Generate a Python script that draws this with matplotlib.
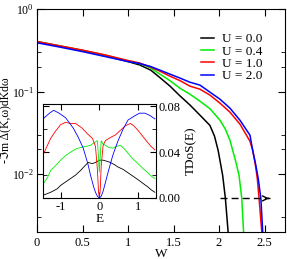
import matplotlib
matplotlib.use('Agg')
import matplotlib.pyplot as plt
from matplotlib.ticker import LogLocator, NullFormatter, FixedLocator

plt.rcParams['font.family'] = ['Liberation Serif', 'DejaVu Sans']
plt.rcParams['mathtext.fontset'] = 'stix'

# ---------------- main panel data ----------------
W_black = [0, 0.25, 0.5, 0.75, 1.0, 1.13, 1.25, 1.35, 1.46, 1.57, 1.68, 1.79, 1.90, 1.95, 1.99, 2.01, 2.04, 2.07, 2.10, 2.12]
v_black = [0.401, 0.356, 0.314, 0.273, 0.231, 0.210, 0.182, 0.148, 0.117, 0.089, 0.069, 0.052, 0.039, 0.029,
           0.0195, 0.0148, 0.0097, 0.0051, 0.002, 0.0005]

W_green = [0, 0.25, 0.5, 0.75, 1.0, 1.13, 1.25, 1.35, 1.46, 1.57, 1.68, 1.79, 1.90, 2.01, 2.07, 2.12, 2.15, 2.18,
           2.22, 2.25, 2.27, 2.29]
v_green = [0.404, 0.358, 0.316, 0.276, 0.234, 0.2185, 0.193, 0.163, 0.136, 0.110, 0.0932, 0.0767, 0.0622, 0.0451,
           0.0351, 0.0258, 0.0195, 0.0148, 0.0097, 0.0051, 0.002, 0.0005]

W_red = [0, 0.25, 0.5, 0.75, 1.0, 1.13, 1.25, 1.35, 1.46, 1.57, 1.68, 1.79, 1.90, 2.01, 2.12, 2.23, 2.34, 2.37,
         2.40, 2.42, 2.44, 2.47, 2.49]
v_red = [0.404, 0.358, 0.318, 0.278, 0.238, 0.2215, 0.198, 0.177, 0.154, 0.136, 0.1166, 0.107, 0.0908, 0.0726,
         0.0564, 0.0404, 0.0251, 0.0195, 0.0129, 0.0090, 0.0051, 0.002, 0.0005]

W_blue = [0, 0.25, 0.5, 0.75, 1.0, 1.13, 1.25, 1.35, 1.46, 1.57, 1.68, 1.79, 1.90, 2.01, 2.12, 2.23, 2.34, 2.37,
          2.40, 2.43, 2.46, 2.48, 2.50]
v_blue = [0.390, 0.346, 0.305, 0.2656, 0.231, 0.2185, 0.201, 0.182, 0.163, 0.146, 0.130, 0.120, 0.0986, 0.0811,
          0.0631, 0.0451, 0.0297, 0.0195, 0.0136, 0.0090, 0.0051, 0.002, 0.0005]

labels = ['U = 0.0', 'U = 0.4', 'U = 1.0', 'U = 2.0']
colors = ['#000000', '#00ee00', '#ff0000', '#0000ff']

# ---------------- inset data ----------------
E_black = [-1.45, -1.27, -1.1, -1.01, -0.88, -0.75, -0.62, -0.49, -0.38, -0.29, -0.18, -0.1, 0.0, 0.1, 0.2, 0.29,
           0.4, 0.49, 0.62, 0.75, 0.88, 1.01, 1.13, 1.27, 1.36, 1.45]
d_black = [0.0026, 0.005, 0.008, 0.011, 0.014, 0.017, 0.020, 0.024, 0.028, 0.031, 0.030, 0.031, 0.033, 0.033,
           0.032, 0.031, 0.029, 0.027, 0.025, 0.022, 0.019, 0.016, 0.013, 0.0096, 0.007, 0.005]

E_green = [-1.45, -1.35, -1.27, -1.15, -1.01, -0.88, -0.75, -0.6, -0.49, -0.35, -0.23, -0.1, -0.05, -0.03, 0.0,
           0.03, 0.05, 0.1, 0.16, 0.25, 0.36, 0.45, 0.55, 0.65, 0.75, 0.88, 1.01, 1.13, 1.27, 1.36, 1.45]
d_green = [0.013, 0.018, 0.024, 0.028, 0.033, 0.037, 0.040, 0.043, 0.044, 0.045, 0.046, 0.049, 0.050, 0.040,
           0.0226, 0.040, 0.050, 0.047, 0.046, 0.044, 0.0435, 0.045, 0.046, 0.043, 0.039, 0.034, 0.030, 0.026,
           0.022, 0.019, 0.017]

E_red = [-1.45, -1.27, -1.15, -1.01, -0.88, -0.75, -0.62, -0.45, -0.31, -0.18, -0.1, -0.05, -0.02, 0.0, 0.02,
         0.05, 0.1, 0.16, 0.3, 0.42, 0.55, 0.68, 0.81, 0.9, 1.01, 1.13, 1.25, 1.35, 1.45]
d_red = [0.039, 0.052, 0.058, 0.064, 0.066, 0.065, 0.065, 0.061, 0.056, 0.052, 0.045, 0.025, 0.005, 0.001, 0.005,
         0.028, 0.046, 0.050, 0.053, 0.055, 0.059, 0.063, 0.065, 0.063, 0.059, 0.054, 0.049, 0.045, 0.042]

E_blue = [-1.45, -1.3, -1.19, -1.05, -0.88, -0.68, -0.55, -0.42, -0.3, -0.23, -0.15, -0.1, -0.05, 0.0, 0.05, 0.1,
          0.23, 0.35, 0.49, 0.62, 0.75, 0.94, 1.05, 1.19, 1.32, 1.45]
d_blue = [0.0696, 0.074, 0.0765, 0.074, 0.070, 0.061, 0.053, 0.0435, 0.030, 0.020, 0.010, 0.005, 0.0015, 0.0,
          0.0015, 0.006, 0.0226, 0.037, 0.050, 0.060, 0.068, 0.072, 0.074, 0.074, 0.072, 0.069]

arrow_W = [2.01, 2.56]
arrow_v = 0.0051

fig = plt.figure(figsize=(2.87, 2.59), dpi=100)
ax = fig.add_axes([37 / 287, 1 - 232 / 259, 248 / 287, 223 / 259])

main_W = [W_black, W_green, W_red, W_blue]
main_v = [v_black, v_green, v_red, v_blue]
for Wv, vv, c, lab in zip(main_W, main_v, colors, labels):
    ax.plot(Wv, vv, color=c, lw=1.1, label=lab)

ax.set_yscale('log')
ax.set_xlim(0, 2.725)
ax.set_ylim(0.002, 1)
ax.xaxis.set_major_locator(FixedLocator([0, 0.5, 1, 1.5, 2, 2.5]))
ax.set_xticklabels(['0', '0.5', '1', '1.5', '2', '2.5'])
ax.yaxis.set_major_locator(LogLocator(base=10, subs=(1.0,)))
ax.yaxis.set_minor_locator(LogLocator(base=10, subs=(2.0, 3.0)))
ax.yaxis.set_minor_formatter(NullFormatter())
ax.tick_params(which='both', direction='in', top=True, right=True, labelsize=9)
ax.tick_params(axis='y', which='major', labelsize=8.5, pad=2)
ax.tick_params(which='major', length=5)
ax.tick_params(which='minor', length=3)
ax.set_xlabel('W', fontsize=9.5)
ax.xaxis.set_label_coords(0.5, -0.072)
ax.set_ylabel('-ℑm Δ(K,ω)dKdω', fontsize=8.5, family=['Liberation Serif', 'DejaVu Sans'])
ax.yaxis.set_label_coords(-0.103, 0.5)

ax.plot(arrow_W, [arrow_v, arrow_v], color='k', lw=1.0, ls=(0, (5, 3)))
ax.annotate('', xy=(arrow_W[1] + 0.02, arrow_v), xytext=(arrow_W[1] - 0.05, arrow_v),
            arrowprops=dict(arrowstyle='->', color='k', lw=1.0, mutation_scale=9))

leg = ax.legend(loc='upper right', bbox_to_anchor=(0.93, 0.915), frameon=False, fontsize=9.5,
                handlelength=1.0, handletextpad=0.6, labelspacing=0.0, borderaxespad=0)

# ---------------- inset ----------------
ins = fig.add_axes([43 / 287, 1 - 198 / 259, 113 / 287, 94 / 259])
ins.set_facecolor('white')
inset_E = [E_black, E_green, E_red, E_blue]
inset_d = [d_black, d_green, d_red, d_blue]
for Ev, dv, c in zip(inset_E, inset_d, colors):
    ins.plot(Ev, dv, color=c, lw=0.6)
ins.set_xlim(-1.47, 1.48)
ins.set_ylim(0, 0.082)
ins.xaxis.set_major_locator(FixedLocator([-1, 0, 1]))
ins.set_xticklabels(['-1', '0', '1'])
ins.yaxis.set_major_locator(FixedLocator([0.0, 0.04, 0.08]))
ins.yaxis.set_minor_locator(FixedLocator([0.02, 0.06]))
ins.set_yticklabels(['0.00', '0.04', '0.08'])
ins.yaxis.tick_right()
ins.yaxis.set_label_position('right')
ins.tick_params(which='both', direction='in', top=True, bottom=True, left=True, right=True,
                labelleft=False, labelright=True, labelsize=9, pad=2)
ins.tick_params(which='major', length=4)
ins.tick_params(which='minor', length=3)
ins.set_xlabel('E', fontsize=9.5, labelpad=0)
ins.set_ylabel('TDoS(E)', fontsize=9.5, labelpad=3)

fig.savefig('out.png', dpi=100)
